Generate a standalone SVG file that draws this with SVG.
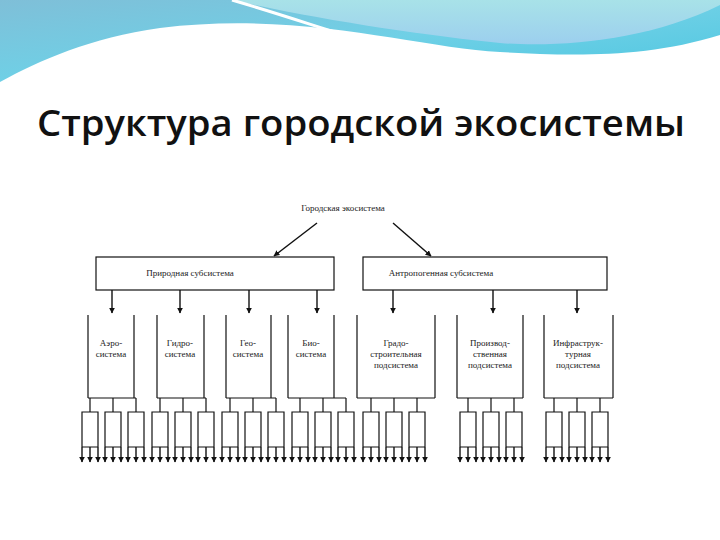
<svg xmlns="http://www.w3.org/2000/svg" width="720" height="540" viewBox="0 0 720 540">
<style>
.l{stroke:#111;stroke-width:1.2;fill:none}
.a{stroke:#111;stroke-width:1.4;fill:none;marker-end:url(#ah)}
.t{font-family:"Liberation Serif",serif;font-size:9px;fill:#222;text-anchor:middle}
</style>
<defs>
<linearGradient id="g1" x1="0" y1="0" x2="1" y2="1"><stop offset="0" stop-color="#7fbfd8"/><stop offset="0.5" stop-color="#6fd0e6"/><stop offset="1" stop-color="#4cc6e0"/></linearGradient>
<linearGradient id="g2" x1="0" y1="0" x2="0" y2="1"><stop offset="0" stop-color="#a8e2e8"/><stop offset="1" stop-color="#9ccfee"/></linearGradient>
<marker id="ah" viewBox="0 0 10 10" refX="9" refY="5" markerWidth="6" markerHeight="6" markerUnits="userSpaceOnUse" orient="auto"><path d="M0,0 L10,5 L0,10 z" fill="#111"/></marker>
</defs>
<rect width="720" height="540" fill="#fff"/>
<path d="M0,0 H720 V35 C640,60 560,55 500,52 C420,48 300,10 160,28 C90,38 40,60 0,82 Z" fill="url(#g1)"/>
<path d="M232,0 H720 V5 C650,40 560,48 500,43 C420,35 320,20 232,0 Z" fill="url(#g2)"/>
<path d="M232,0 C300,20 340,35 370,42" stroke="#fff" stroke-width="3" fill="none"/>
<text x="361" y="136" font-family="'Open Sans',sans-serif" font-weight="600" font-size="36" textLength="648" lengthAdjust="spacingAndGlyphs" fill="#111" text-anchor="middle">Структура городской экосистемы</text>
<g id="root"><text class="t" x="343" y="211">Городская экосистема</text></g>
<g id="nat"><rect class="l" x="96" y="257" width="238" height="33"/><text class="t" x="190" y="276">Природная субсистема</text></g>
<g id="ant"><rect class="l" x="363" y="257" width="244" height="33"/><text class="t" x="441" y="276">Антропогенная субсистема</text></g>
<g id="aero"><path class="l" d="M88,315 V398 M134,315 V398 M88,398 H136"/><text class="t" x="111" y="346">Аэро-</text><text class="t" x="111" y="357">система</text></g>
<g id="gidro"><path class="l" d="M157,315 V398 M204,315 V398 M157,398 H206"/><text class="t" x="180" y="346">Гидро-</text><text class="t" x="180" y="357">система</text></g>
<g id="geo"><path class="l" d="M226,315 V398 M271,315 V398 M226,398 H276"/><text class="t" x="248" y="346">Гео-</text><text class="t" x="248" y="357">система</text></g>
<g id="bio"><path class="l" d="M288,315 V398 M334,315 V398 M288,398 H346"/><text class="t" x="311" y="346">Био-</text><text class="t" x="311" y="357">система</text></g>
<g id="grado"><path class="l" d="M357,315 V398 M435,315 V398 M357,398 H435"/><text class="t" x="396" y="346">Градо-</text><text class="t" x="396" y="357">строительная</text><text class="t" x="396" y="368">подсистема</text></g>
<g id="proizv"><path class="l" d="M457,315 V398 M523,315 V398 M457,398 H523"/><text class="t" x="490" y="346">Производ-</text><text class="t" x="490" y="357">ственная</text><text class="t" x="490" y="368">подсистема</text></g>
<g id="infra"><path class="l" d="M544,315 V398 M613,315 V398 M544,398 H613"/><text class="t" x="578" y="346">Инфраструк-</text><text class="t" x="578" y="357">турная</text><text class="t" x="578" y="368">подсистема</text></g>
<g id="connectors">
<path class="a" d="M317,223 L274,256"/><path class="a" d="M393,223 L431,256"/>
<path class="a" d="M112,290 V313"/><path class="a" d="M180,290 V313"/><path class="a" d="M249,290 V313"/><path class="a" d="M317,290 V313"/>
<path class="a" d="M393,290 V313"/><path class="a" d="M493,290 V313"/><path class="a" d="M577,290 V313"/>
<path class="l" d="M90,398V412 M113,398V412 M136,398V412 M160,398V412 M183,398V412 M206,398V412 M230,398V412 M253,398V412 M276,398V412 M300,398V412 M323,398V412 M346,398V412 M371,398V412 M394,398V412 M417,398V412 M468,398V412 M491,398V412 M514,398V412 M554,398V412 M577,398V412 M600,398V412"/>
<path class="l" d="M82,447V412H98V447 M105,447V412H121V447 M128,447V412H144V447 M152,447V412H168V447 M175,447V412H191V447 M198,447V412H214V447 M222,447V412H238V447 M245,447V412H261V447 M268,447V412H284V447 M292,447V412H308V447 M315,447V412H331V447 M338,447V412H354V447 M363,447V412H379V447 M386,447V412H402V447 M409,447V412H425V447 M460,447V412H476V447 M483,447V412H499V447 M506,447V412H522V447 M546,447V412H562V447 M569,447V412H585V447 M592,447V412H608V447"/>
<path class="l" d="M82,447H98 M105,447H121 M128,447H144 M152,447H168 M175,447H191 M198,447H214 M222,447H238 M245,447H261 M268,447H284 M292,447H308 M315,447H331 M338,447H354 M363,447H379 M386,447H402 M409,447H425 M460,447H476 M483,447H499 M506,447H522 M546,447H562 M569,447H585 M592,447H608"/>
<path class="a" d="M82,447V462"/><path class="a" d="M90,447V462"/><path class="a" d="M98,447V462"/>
<path class="a" d="M105,447V462"/><path class="a" d="M113,447V462"/><path class="a" d="M121,447V462"/>
<path class="a" d="M128,447V462"/><path class="a" d="M136,447V462"/><path class="a" d="M144,447V462"/>
<path class="a" d="M152,447V462"/><path class="a" d="M160,447V462"/><path class="a" d="M168,447V462"/>
<path class="a" d="M175,447V462"/><path class="a" d="M183,447V462"/><path class="a" d="M191,447V462"/>
<path class="a" d="M198,447V462"/><path class="a" d="M206,447V462"/><path class="a" d="M214,447V462"/>
<path class="a" d="M222,447V462"/><path class="a" d="M230,447V462"/><path class="a" d="M238,447V462"/>
<path class="a" d="M245,447V462"/><path class="a" d="M253,447V462"/><path class="a" d="M261,447V462"/>
<path class="a" d="M268,447V462"/><path class="a" d="M276,447V462"/><path class="a" d="M284,447V462"/>
<path class="a" d="M292,447V462"/><path class="a" d="M300,447V462"/><path class="a" d="M308,447V462"/>
<path class="a" d="M315,447V462"/><path class="a" d="M323,447V462"/><path class="a" d="M331,447V462"/>
<path class="a" d="M338,447V462"/><path class="a" d="M346,447V462"/><path class="a" d="M354,447V462"/>
<path class="a" d="M363,447V462"/><path class="a" d="M371,447V462"/><path class="a" d="M379,447V462"/>
<path class="a" d="M386,447V462"/><path class="a" d="M394,447V462"/><path class="a" d="M402,447V462"/>
<path class="a" d="M409,447V462"/><path class="a" d="M417,447V462"/><path class="a" d="M425,447V462"/>
<path class="a" d="M460,447V462"/><path class="a" d="M468,447V462"/><path class="a" d="M476,447V462"/>
<path class="a" d="M483,447V462"/><path class="a" d="M491,447V462"/><path class="a" d="M499,447V462"/>
<path class="a" d="M506,447V462"/><path class="a" d="M514,447V462"/><path class="a" d="M522,447V462"/>
<path class="a" d="M546,447V462"/><path class="a" d="M554,447V462"/><path class="a" d="M562,447V462"/>
<path class="a" d="M569,447V462"/><path class="a" d="M577,447V462"/><path class="a" d="M585,447V462"/>
<path class="a" d="M592,447V462"/><path class="a" d="M600,447V462"/><path class="a" d="M608,447V462"/>
</g>
</svg>
